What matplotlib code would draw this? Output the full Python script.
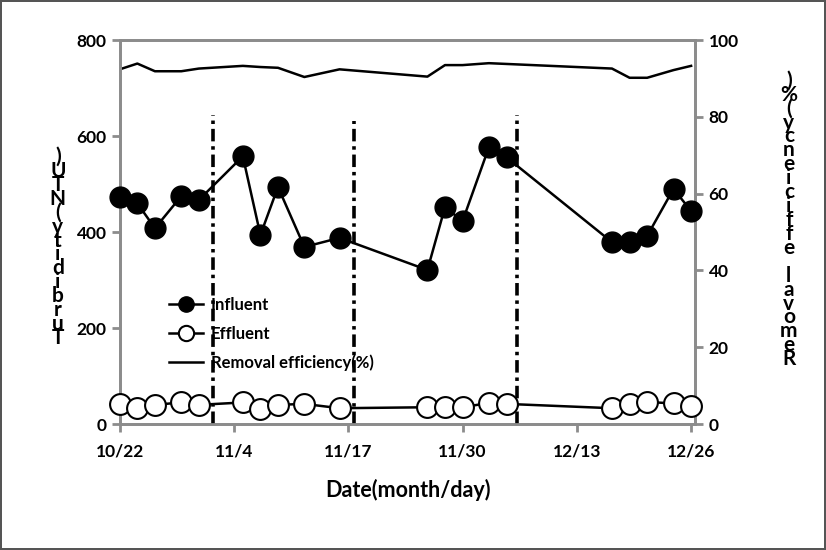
import matplotlib
matplotlib.use("Agg")
import matplotlib.pyplot as plt
from matplotlib.lines import Line2D

plt.rcParams['font.family'] = ['Lato', 'DejaVu Sans']
plt.rcParams['font.weight'] = 'bold'
plt.rcParams['axes.labelweight'] = 'bold'
plt.rcParams['lines.scale_dashes'] = False

# --- DATA --------------------------- #
# days counted from 10/22
days = [0, 2, 4, 7, 9, 14, 16, 18, 21, 25, 35, 37, 39, 42, 44, 56, 58, 60, 63, 65]
influent = [473, 460, 408, 475, 467, 558, 394, 494, 369, 388,
            321, 452, 423, 577, 556, 379, 379, 392, 490, 444]
effluent = [42, 33, 40, 45, 40, 45, 31, 40, 42, 33,
            35, 35, 35, 44, 42, 33, 42, 46, 43, 38]
removal = [92.4, 93.9, 91.9, 91.9, 92.6, 93.3, 93.0, 92.8, 90.4, 92.4,
           90.5, 93.5, 93.5, 94.0, 93.8, 92.6, 90.2, 90.2, 92.2, 93.3]
tick_days = [0, 13, 26, 39, 52, 65]
tick_labels = ["10/22", "11/4", "11/17", "11/30", "12/13", "12/26"]
period_days = [10.6, 26.7, 45.2]
period_tops = [645, 632, 645]
left_label = "Turbidity(NTU)"
right_label = "Removal efficiency(%)"
# ------------------------------------ #

fig = plt.figure(figsize=(8.26, 5.5), dpi=100)
fig.patch.set_edgecolor('#555555')
fig.patch.set_linewidth(1.5)
ax = fig.add_axes([0.145, 0.229, 0.697, 0.698])
ax2 = ax.twinx()

gray = '#8c8c8c'
for a in (ax, ax2):
    for s in a.spines.values():
        s.set_color(gray)
        s.set_linewidth(2)
    a.tick_params(colors=gray, width=2, length=6, labelsize=12.5, labelcolor='black')

# period separators
for d, top in zip(period_days, period_tops):
    ax.vlines(d, 0, top, color='black', lw=2.6, linestyles=[(0, (9, 3.5, 2.5, 3.5))], zorder=1)

l1, = ax.plot(days, influent, '-o', color='black', lw=1.8, ms=15,
              mfc='black', mec='black', label='Influent', zorder=3, clip_on=False)
l2, = ax.plot(days, effluent, '-o', color='black', lw=1.8, ms=15,
              mfc='white', mec='black', mew=1.5, label='Effluent', zorder=3, clip_on=False)
l3, = ax2.plot(days, removal, '-', color='black', lw=1.8, label='Removal efficiency(%)')

ax.set_xlim(0, 65.5)
ax.set_ylim(0, 800)
ax.set_yticks([0, 200, 400, 600, 800])
ax2.set_ylim(0, 100)
ax2.set_yticks([0, 20, 40, 60, 80, 100])
ax.set_xticks(tick_days)
ax.set_xticklabels(tick_labels)
ax.tick_params(axis='x', pad=8)
ax.set_zorder(ax2.get_zorder() + 1)
ax.patch.set_visible(False)

ax.set_xlabel("Date(month/day)", fontsize=15.5, fontweight='bold', labelpad=14)

# stacked vertical axis titles (characters upright, read bottom to top)
fig.text(0.07, 0.55, "\n".join(reversed(left_label)), ha='center', va='center',
         fontsize=15, fontweight='bold', linespacing=0.62)
fig.text(0.955, 0.6, "\n".join(reversed(right_label)), ha='center', va='center',
         fontsize=15, fontweight='bold', linespacing=0.62)

handles = [Line2D([], [], color='black', lw=1.8, marker='o', ms=11, mfc='black'),
           Line2D([], [], color='black', lw=1.8, marker='o', ms=11, mfc='white', mew=1.5),
           Line2D([], [], color='black', lw=1.8)]
ax.legend(handles, ['Influent', 'Effluent', 'Removal efficiency(%)'],
          loc='upper left', bbox_to_anchor=(0.06, 0.37), frameon=False,
          prop={'size': 12, 'weight': 'bold'}, handlelength=2, handletextpad=0.5,
          labelspacing=0.75)

fig.savefig("out.png", dpi=100)
